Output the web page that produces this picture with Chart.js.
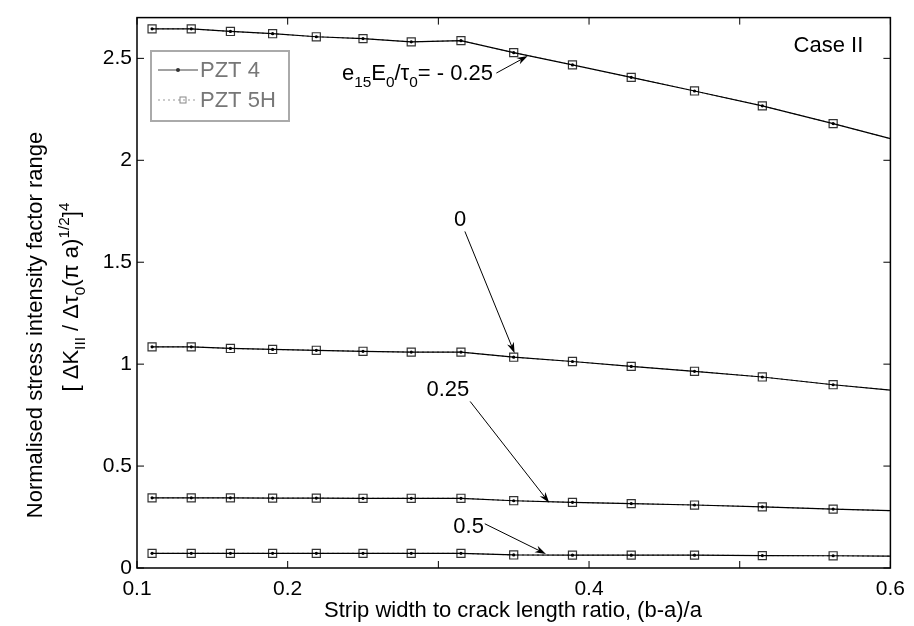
<!DOCTYPE html>
<html>
<head>
<meta charset="utf-8">
<script src="https://cdn.jsdelivr.net/npm/chart.js@4.4.1/dist/chart.umd.min.js"></script>
<style>
  html, body { margin: 0; padding: 0; background: #fff; }
  #wrap { width: 914px; height: 626px; }
</style>
</head>
<body>
<div id="wrap"><canvas id="chart" width="914" height="626"></canvas></div>
<script>
// strip width to crack length ratio (b-a)/a
const ratio = [0.110, 0.136, 0.162, 0.190, 0.219, 0.250, 0.282, 0.315, 0.350, 0.389, 0.428, 0.470, 0.515, 0.562, 0.600];

// normalised SIF range, one curve per e15E0/tau0 (PZT 4 and PZT 5H coincide at this scale)
const sifMinus025 = [2.645, 2.645, 2.632, 2.621, 2.606, 2.597, 2.581, 2.587, 2.528, 2.468, 2.407, 2.340, 2.267, 2.180, 2.106];
const sifZero     = [1.085, 1.085, 1.077, 1.072, 1.068, 1.063, 1.059, 1.059, 1.034, 1.013, 0.989, 0.965, 0.937, 0.899, 0.873];
const sif025      = [0.344, 0.344, 0.344, 0.343, 0.343, 0.342, 0.342, 0.342, 0.330, 0.322, 0.316, 0.309, 0.300, 0.289, 0.281];
const sif05       = [0.072, 0.072, 0.072, 0.072, 0.072, 0.072, 0.072, 0.072, 0.064, 0.063, 0.063, 0.063, 0.061, 0.060, 0.058];

const curves = [sifMinus025, sifZero, sif025, sif05];

const xTicks = [0.1, 0.2, 0.3, 0.4, 0.5, 0.6];
const xTickLabels = ['0.1', '0.2', '', '0.4', '', '0.6'];
const yTicks = [0, 0.5, 1, 1.5, 2, 2.5];
const yTickLabels = ['0', '0.5', '1', '1.5', '2', '2.5'];

const FONT = "'Liberation Sans', Arial, Helvetica, sans-serif";
const font = (size) => size + 'px ' + FONT;

const lastIdx = ratio.length - 1;
const toPoints = (vals) => vals.map((v, i) => ({ x: ratio[i], y: v }));

// PZT 4 first so it is drawn on top
const datasets = [];
curves.forEach(c => datasets.push({
  label: 'PZT 4',
  data: toPoints(c),
  borderColor: '#000',
  borderWidth: 1.2,
  pointStyle: 'circle',
  pointRadius: (ctx) => ctx.dataIndex === lastIdx ? 0 : 1.6,
  pointBackgroundColor: '#000',
  pointBorderWidth: 0
}));
curves.forEach(c => datasets.push({
  label: 'PZT 5H',
  data: toPoints(c),
  borderColor: '#555',
  borderWidth: 1,
  borderDash: [2, 3],
  pointStyle: 'rect',
  pointRadius: (ctx) => ctx.dataIndex === lastIdx ? 0 : 5.7,
  pointBackgroundColor: 'rgba(0,0,0,0)',
  pointBorderColor: '#333',
  pointBorderWidth: 1.2
}));

// text helpers: segments with optional sub / sup
function richWidth(ctx, segs, size) {
  let w = 0;
  segs.forEach(s => { ctx.font = font(s.s ? size * 0.7 : size); w += ctx.measureText(s.t).width; });
  return w;
}
function drawRich(ctx, segs, x, y, size, align) {
  const w = richWidth(ctx, segs, size);
  let cx = align === 'right' ? x - w : align === 'center' ? x - w / 2 : x;
  ctx.textAlign = 'left';
  ctx.textBaseline = 'alphabetic';
  segs.forEach(s => {
    const sz = s.s ? size * 0.7 : size;
    ctx.font = font(sz);
    const dy = s.s === 'sub' ? size * 0.32 : s.s === 'sup' ? -size * 0.42 : 0;
    ctx.fillText(s.t, cx, y + dy);
    cx += ctx.measureText(s.t).width;
  });
}

function arrow(ctx, x1, y1, x2, y2) {
  const ang = Math.atan2(y2 - y1, x2 - x1);
  const len = 11, half = 3.6;
  ctx.beginPath();
  ctx.moveTo(x1, y1);
  ctx.lineTo(x2 - Math.cos(ang) * len * 0.7, y2 - Math.sin(ang) * len * 0.7);
  ctx.stroke();
  ctx.beginPath();
  ctx.moveTo(x2, y2);
  ctx.lineTo(x2 - Math.cos(ang) * len - Math.sin(ang) * half, y2 - Math.sin(ang) * len + Math.cos(ang) * half);
  ctx.lineTo(x2 - Math.cos(ang) * len * 0.7, y2 - Math.sin(ang) * len * 0.7);
  ctx.lineTo(x2 - Math.cos(ang) * len + Math.sin(ang) * half, y2 - Math.sin(ang) * len - Math.cos(ang) * half);
  ctx.closePath();
  ctx.fill();
}

// labels on the curves, placed in data units
const notes = [
  { segs: [{ t: 'e' }, { t: '15', s: 'sub' }, { t: 'E' }, { t: '0', s: 'sub' }, { t: '/' }, { t: '\u03c4' }, { t: '0', s: 'sub' }, { t: '= - 0.25' }],
    at: [0.3363, 2.395], align: 'right', from: [0.3385, 2.428], to: [0.3593, 2.512] },
  { segs: [{ t: '0' }], at: [0.3145, 1.680], align: 'center', from: [0.3176, 1.651], to: [0.3506, 1.053] },
  { segs: [{ t: '0.25' }], at: [0.3063, 0.846], align: 'center', from: [0.3211, 0.817], to: [0.3736, 0.320] },
  { segs: [{ t: '0.5' }], at: [0.3099, 0.170], align: 'left', from: [0.3308, 0.217], to: [0.3714, 0.069] }
];

const overlay = {
  id: 'overlay',
  afterDatasetsDraw(chart) {
    const { ctx, chartArea: a, scales: { x, y } } = chart;
    ctx.save();
    ctx.fillStyle = '#000';
    ctx.strokeStyle = '#000';

    // axes box and inward ticks
    ctx.lineWidth = 1.5;
    ctx.strokeRect(a.left, a.top, a.right - a.left, a.bottom - a.top);
    ctx.lineWidth = 1;
    ctx.beginPath();
    xTicks.forEach(v => {
      const px = x.getPixelForValue(v);
      ctx.moveTo(px, a.bottom); ctx.lineTo(px, a.bottom - 7);
      ctx.moveTo(px, a.top); ctx.lineTo(px, a.top + 7);
    });
    yTicks.forEach(v => {
      const py = y.getPixelForValue(v);
      ctx.moveTo(a.left, py); ctx.lineTo(a.left + 7, py);
      ctx.moveTo(a.right, py); ctx.lineTo(a.right - 7, py);
    });
    ctx.stroke();

    // curve labels and arrows
    notes.forEach(n => {
      drawRich(ctx, n.segs, x.getPixelForValue(n.at[0]), y.getPixelForValue(n.at[1]), 22, n.align);
      ctx.lineWidth = 1;
      arrow(ctx, x.getPixelForValue(n.from[0]), y.getPixelForValue(n.from[1]),
                 x.getPixelForValue(n.to[0]), y.getPixelForValue(n.to[1]));
    });

    drawRich(ctx, [{ t: 'Case II' }], x.getPixelForValue(0.582), y.getPixelForValue(2.529), 22, 'right');

    // x title
    ctx.font = font(22);
    ctx.textAlign = 'center';
    ctx.textBaseline = 'alphabetic';
    ctx.fillText('Strip width to crack length ratio, (b-a)/a', 513, 617);

    // y title, two lines
    ctx.save();
    ctx.translate(42, 325);
    ctx.rotate(-Math.PI / 2);
    ctx.font = font(22);
    ctx.textAlign = 'center';
    ctx.fillText('Normalised stress intensity factor range', 0, 0);
    ctx.restore();
    ctx.save();
    ctx.translate(78, 297);
    ctx.rotate(-Math.PI / 2);
    drawRich(ctx, [{ t: '[ \u0394K' }, { t: 'III', s: 'sub' }, { t: ' / \u0394\u03c4' }, { t: '0', s: 'sub' },
                   { t: '(\u03c0 a)' }, { t: '1/2', s: 'sup' }, { t: ']' }, { t: '4', s: 'sup' }], 0, 0, 22, 'center');
    ctx.restore();

    // legend
    const lx = 151, ly = 51, lw = 138, lh = 70;
    ctx.fillStyle = '#fff';
    ctx.fillRect(lx, ly, lw, lh);
    ctx.strokeStyle = '#aaa';
    ctx.lineWidth = 2;
    ctx.strokeRect(lx, ly, lw, lh);
    const entries = [chart.data.datasets[0], chart.data.datasets[curves.length]];
    entries.forEach((d, i) => {
      const yy = ly + 19 + i * 30;
      ctx.strokeStyle = i === 0 ? '#444' : '#999';
      ctx.lineWidth = 1;
      ctx.setLineDash(d.borderDash || []);
      ctx.beginPath(); ctx.moveTo(lx + 7, yy); ctx.lineTo(lx + 47, yy); ctx.stroke();
      ctx.setLineDash([]);
      if (d.pointStyle === 'rect') {
        ctx.strokeStyle = '#888';
        ctx.strokeRect(lx + 29, yy - 3, 6, 6);
      } else {
        ctx.fillStyle = '#333';
        ctx.beginPath(); ctx.arc(lx + 27, yy, 2, 0, Math.PI * 2); ctx.fill();
      }
      ctx.fillStyle = '#777';
      ctx.font = font(22);
      ctx.textAlign = 'left';
      ctx.textBaseline = 'middle';
      ctx.fillText(d.label, lx + 49, yy + 1);
    });
    ctx.restore();
  }
};

new Chart(document.getElementById('chart'), {
  type: 'line',
  data: { datasets },
  options: {
    responsive: false,
    devicePixelRatio: 1,
    animation: false,
    events: [],
    layout: { padding: { top: 8, right: 19, left: 0, bottom: 0 } },
    elements: { line: { tension: 0 } },
    plugins: { legend: { display: false }, tooltip: { enabled: false } },
    scales: {
      x: {
        type: 'linear',
        min: 0.1,
        max: 0.6,
        afterBuildTicks: (s) => { s.ticks = xTicks.map(v => ({ value: v })); },
        afterFit: (s) => { s.height = 58; },
        grid: { display: false, drawTicks: false },
        border: { display: false },
        ticks: {
          callback: (v, i) => xTickLabels[i],
          color: '#000',
          font: { family: FONT, size: 21 },
          padding: 9,
          maxRotation: 0,
          autoSkip: false
        }
      },
      y: {
        type: 'linear',
        min: 0,
        max: 2.7,
        afterBuildTicks: (s) => { s.ticks = yTicks.map(v => ({ value: v })); },
        afterFit: (s) => { s.width = 137; },
        grid: { display: false, drawTicks: false },
        border: { display: false },
        ticks: {
          callback: (v, i) => yTickLabels[i],
          color: '#000',
          font: { family: FONT, size: 21 },
          padding: 5,
          autoSkip: false
        }
      }
    }
  },
  plugins: [overlay]
});
</script>
</body>
</html>
